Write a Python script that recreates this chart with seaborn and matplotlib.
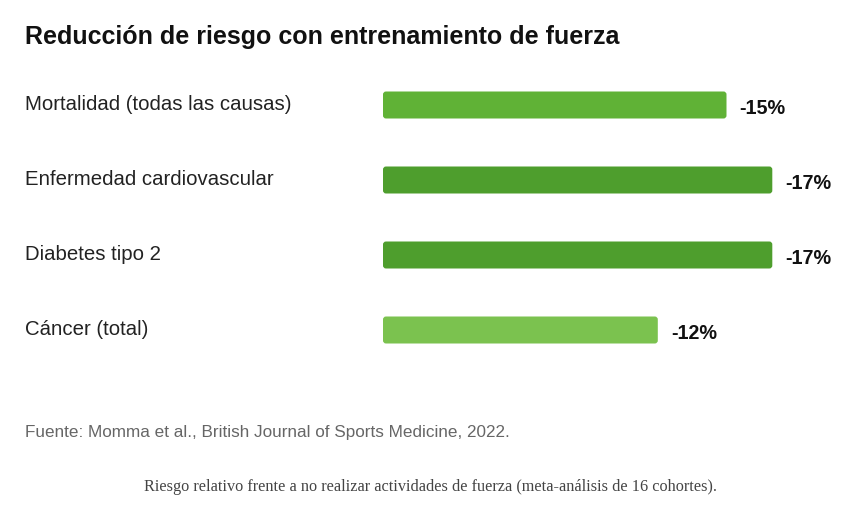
import seaborn as sns
import pandas as pd
import matplotlib.pyplot as plt
from matplotlib.patches import FancyBboxPatch
from matplotlib.transforms import blended_transform_factory

categorias = ['Mortalidad (todas las causas)', 'Enfermedad cardiovascular',
              'Diabetes tipo 2', 'Cáncer (total)']
reduccion = [15, 17, 17, 12]
etiquetas = ['-15%', '-17%', '-17%', '-12%']
colores = ['#60b236', '#4e9e2d', '#4e9e2d', '#7bc24f']

df = pd.DataFrame({'cat': categorias, 'val': reduccion})

sns.set_theme(style='white')
plt.rcParams['font.family'] = ['Liberation Sans', 'DejaVu Sans']

W, H = 865, 516
fig = plt.figure(figsize=(W / 100, H / 100), dpi=100)
# axes: x from 383px, 22.9 px per percent; rows 75 px apart
ax = fig.add_axes([383 / W, 1 - 367.5 / H, 22.9 * 20 / W, 300 / H])

sns.barplot(data=df, x='val', y='cat', hue='cat', palette=colores,
            legend=False, width=0.36, ax=ax, saturation=1)
ax.set_xlim(0, 20)
ax.set_ylim(3.5, -0.5)

# swap plain rectangles for rounded ones
px_x = 1 / 22.9
px_y = 1 / 75
for p in list(ax.patches):
    x0, y0, w, h = p.get_x(), p.get_y(), p.get_width(), p.get_height()
    fc = p.get_facecolor()
    p.remove()
    ax.add_patch(FancyBboxPatch((x0, y0), w, h,
                                boxstyle=f'round,pad=0,rounding_size={3 * px_x}',
                                mutation_aspect=px_y / px_x,
                                fc=fc, ec='none'))

for i, (v, t) in enumerate(zip(reduccion, etiquetas)):
    ax.text(v + 13 * px_x, i + 3.5 * px_y, t, ha='left', va='center',
            fontsize=14.2, fontweight='bold', color='#111111')

tr = blended_transform_factory(fig.transFigure, ax.transData)
for i, c in enumerate(categorias):
    ax.text(25 / W, i - 0.5 * px_y, c, transform=tr, ha='left', va='center',
            fontsize=14.7, color='#222222', clip_on=False)

ax.set_xticks([])
ax.set_yticks([])
ax.set_xlabel('')
ax.set_ylabel('')
sns.despine(ax=ax, left=True, bottom=True)

fig.text(25 / W, 1 - 37 / H, 'Reducción de riesgo con entrenamiento de fuerza',
         ha='left', va='center', fontsize=18, fontweight='bold', color='#111111')
fig.text(25 / W, 1 - 433 / H,
         'Fuente: Momma et al., British Journal of Sports Medicine, 2022.',
         ha='left', va='center', fontsize=12.3, color='#666666')
fig.text(430 / W, 1 - 487 / H,
         'Riesgo relativo frente a no realizar actividades de fuerza (meta-análisis de 16 cohortes).',
         ha='center', va='center', fontsize=11.7, color='#444444',
         family=['Liberation Serif', 'DejaVu Serif'])

fig.savefig('out.png', dpi=100, facecolor='white')
